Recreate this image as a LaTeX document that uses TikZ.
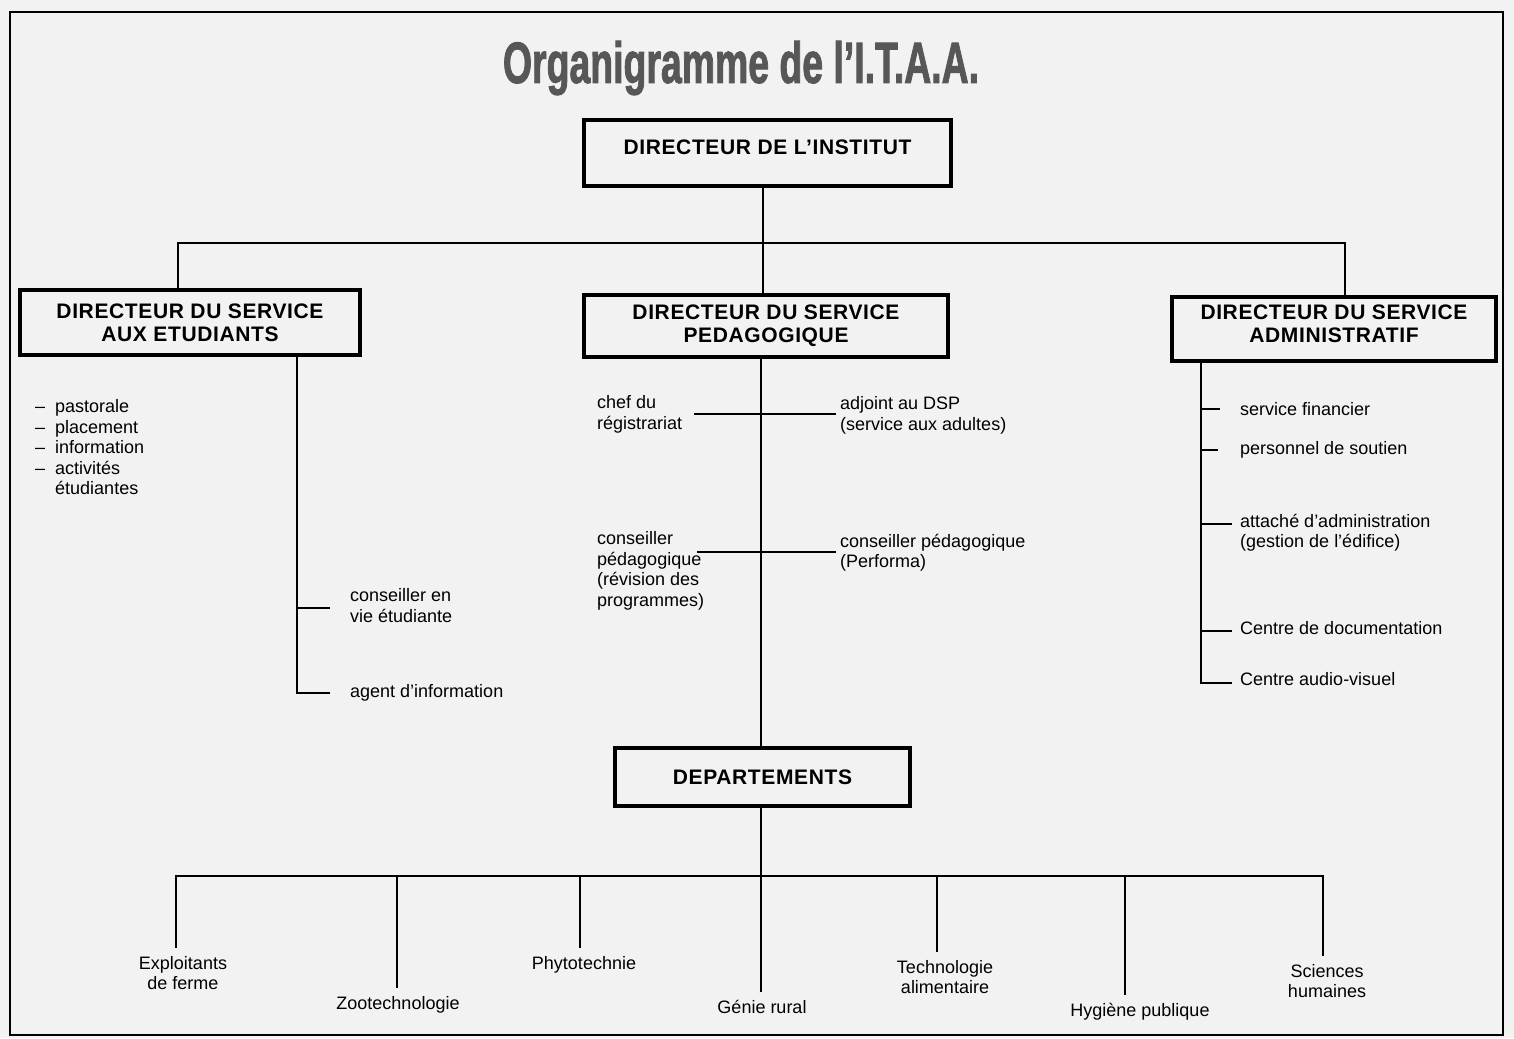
\documentclass[tikz,border=0pt]{standalone}
\usepackage{fontspec}
\usepackage{graphicx}
\setmainfont{Liberation Sans}
\newfontfamily\boxfont[LetterSpace=3]{Liberation Sans}
\newfontfamily\titlefont{Liberation Sans}[BoldFeatures={FakeBold=2}]
\begin{document}
\begin{tikzpicture}[x=1pt,y=-1pt,
  box/.style={draw, line width=3.2pt, inner sep=0pt, align=center,
    font={\boxfont\bfseries\fontsize{21}{23}\selectfont}},
  boxtext/.style={inner sep=0pt, align=center,
    font={\boxfont\bfseries\fontsize{21}{23}\selectfont}},
  ln/.style={line width=2pt},
  lab/.style={inner sep=0pt, align=left, font={\fontsize{18}{20.5}\selectfont}},
  dlab/.style={inner sep=0pt, outer sep=8pt, align=center, anchor=north,
    font={\fontsize{18}{20.5}\selectfont}}]
\useasboundingbox (0,0) rectangle (1514,1038);
\fill[black!5] (0,0) rectangle (1514,1038);
\draw[line width=2pt] (10,12) rectangle (1503,1035);

% title
\node[font={\titlefont\bfseries\fontsize{58}{60}\selectfont}, text=black!66, inner sep=0pt] (title) at (741,68)
  {\scalebox{0.645}[1]{Organigramme de l’I.T.A.A.}};

% boxes
\node[box, minimum width=367pt, minimum height=66pt, text height=14.5pt, text depth=12pt] (DI) at (767.5,153) {DIRECTEUR DE L’INSTITUT};
\node[box, minimum width=340pt, minimum height=65pt] (DSE) at (190,322.5) {DIRECTEUR DU SERVICE\\AUX ETUDIANTS};
\node[box, minimum width=364pt, minimum height=62pt] (DSP) at (766,326) {DIRECTEUR DU SERVICE\\PEDAGOGIQUE};
\node[box, minimum width=324pt, minimum height=64pt] (DSA) at (1334,329) {};
\node[boxtext] (DSAt) at (1334,323.5) {DIRECTEUR DU SERVICE\\ADMINISTRATIF};
\node[box, minimum width=295pt, minimum height=58pt] (DEP) at (762.5,777) {DEPARTEMENTS};

% top connectors
\coordinate (vc) at (763,243);
\coordinate (bL) at (178,243);
\coordinate (bR) at (1345,243);
\draw[ln] (vc |- DI.south) -- (vc |- DSP.north);
\draw[ln] (bL |- DSE.north) -- (bL) -- (bR) -- (bR |- DSA.north);

% service aux etudiants
\node[lab, anchor=north west] (list) at (35,398) {%
  \begin{tabular}{@{}l@{\hspace{10pt}}l@{}}
  – & pastorale\\
  – & placement\\
  – & information\\
  – & activités\\
    & étudiantes
  \end{tabular}};
\node[lab, anchor=north west] (cve) at (350,588.7) {conseiller en\\vie étudiante};
\node[lab, anchor=west] (agent) at (350,693) {agent d’information};
\coordinate (e1) at (297,608);
\draw[ln, shorten >=20pt] (e1) -- (e1 -| cve.west);
\draw[ln, shorten >=20pt] (e1 |- DSE.south) |- (agent.west);

% service pedagogique
\node[lab, anchor=north west] (chef) at (597,395.7) {chef du\\régistrariat};
\node[lab, anchor=north west] (adj) at (840,396.7) {adjoint au DSP\\(service aux adultes)};
\node[lab, anchor=north west] (cpr) at (597,531.7) {conseiller\\pédagogique\\(révision des\\programmes)};
\node[lab, anchor=north west] (cpp) at (840,533.7) {conseiller pédagogique\\(Performa)};
\coordinate (vp) at (761,414);
\draw[ln] (vp |- DSP.south) -- (vp |- DEP.north);
\coordinate (c1l) at (694,414);
\coordinate (c1r) at (836,414);
\coordinate (c2l) at (697,552);
\coordinate (c2r) at (836,552);
\draw[ln] (c1l) -- (c1r);
\draw[ln] (c2l) -- (c2r);

% service administratif
\node[lab, anchor=west] (fin) at (1240,409) {service financier};
\node[lab, anchor=west] (sout) at (1240,450) {personnel de soutien};
\node[lab, anchor=north west] (att) at (1240,513.7) {attaché d’administration\\(gestion de l’édifice)};
\node[lab, anchor=west] (doc) at (1240,628) {Centre de documentation};
\node[lab, anchor=west] (av) at (1240,679) {Centre audio-visuel};
\coordinate (a0) at (1201,683);
\coordinate (attT) at (1240,524);
\coordinate (docT) at (1240,631);
\draw[ln, shorten >=8pt] (a0 |- DSA.south) -- (a0) -- (a0 -| av.west);
\draw[ln, shorten >=20pt] (a0 |- fin.west) -- (fin.west);
\draw[ln, shorten >=22pt] (a0 |- sout.west) -- (sout.west);
\draw[ln, shorten >=8pt] (a0 |- attT) -- (attT);
\draw[ln, shorten >=8pt] (a0 |- docT) -- (docT);

% departements
\node[dlab] (expl) at (183,948) {Exploitants\\de ferme};
\node[dlab] (zoo) at (398,988) {Zootechnologie};
\node[dlab] (phyto) at (584,948) {Phytotechnie};
\node[dlab] (genie) at (762,992) {Génie rural};
\node[dlab] (tech) at (945,952) {Technologie\\alimentaire};
\node[dlab] (hyg) at (1140,995) {Hygiène publique};
\node[dlab] (sci) at (1327,956) {Sciences\\humaines};
\coordinate (dL) at (176,876);
\coordinate (dR) at (1323,876);
\coordinate (dG) at (761,876);
\coordinate (dZ) at (397,876);
\coordinate (dP) at (580,876);
\coordinate (dT) at (937,876);
\coordinate (dH) at (1125,876);
\draw[ln] (dG |- DEP.south) -- (dG |- genie.north);
\draw[ln] (dL |- expl.north) -- (dL) -- (dR) -- (dR |- sci.north);
\draw[ln] (dZ) -- (dZ |- zoo.north);
\draw[ln] (dP) -- (dP |- phyto.north);
\draw[ln] (dT) -- (dT |- tech.north);
\draw[ln] (dH) -- (dH |- hyg.north);
\end{tikzpicture}
\end{document}
